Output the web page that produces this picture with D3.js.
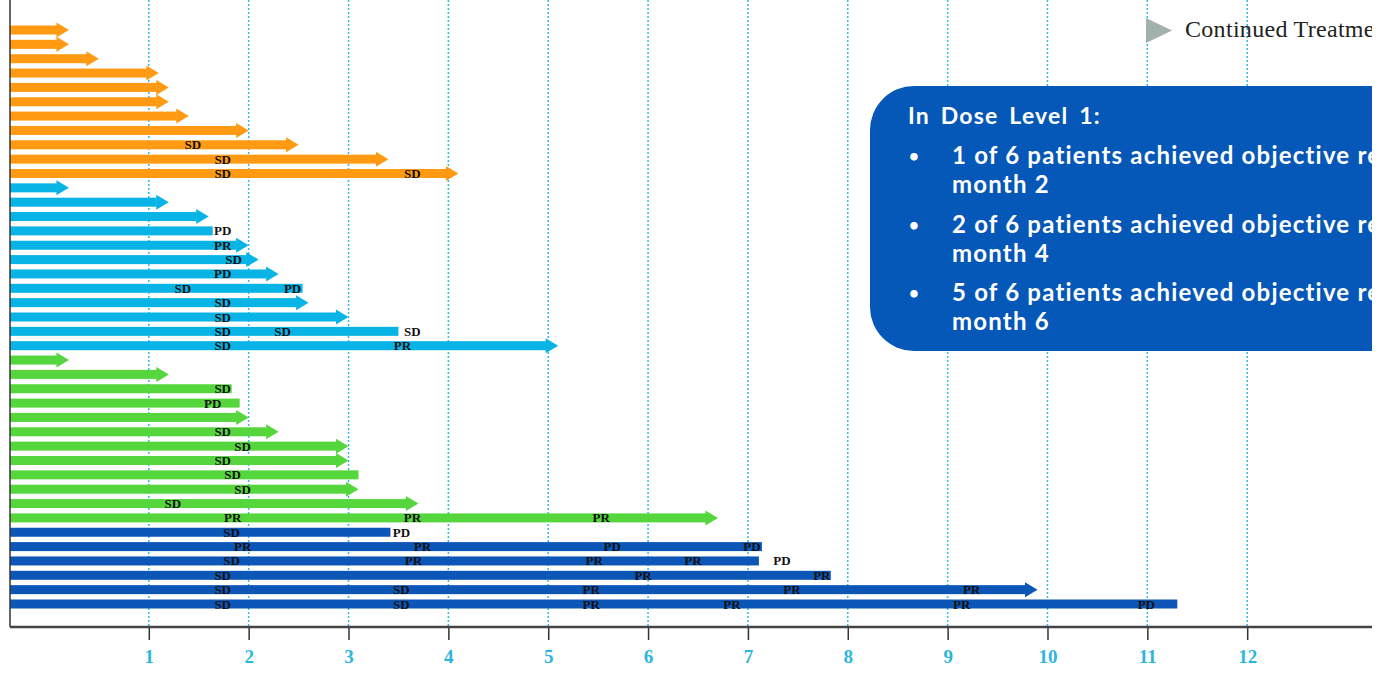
<!DOCTYPE html>
<html>
<head>
<meta charset="utf-8">
<script src="https://cdn.jsdelivr.net/npm/d3@7"></script>
<style>
  body { margin: 0; background: #fff; }
  svg { display: block; }
</style>
</head>
<body>
<svg width="1381" height="673"></svg>
<script>
var svg = d3.select('svg');
var width = +svg.attr('width');
var height = +svg.attr('height');

// months on treatment, one row per patient, grouped by cohort
// end = last month, cont = still on treatment (arrow), marks = [month, response]
var cohortOrange = [
  {end: 0.2, cont: true, marks: []},
  {end: 0.2, cont: true, marks: []},
  {end: 0.5, cont: true, marks: []},
  {end: 1.1, cont: true, marks: []},
  {end: 1.2, cont: true, marks: []},
  {end: 1.2, cont: true, marks: []},
  {end: 1.4, cont: true, marks: []},
  {end: 2.0, cont: true, marks: []},
  {end: 2.5, cont: true, marks: [[1.44, 'SD']]},
  {end: 3.4, cont: true, marks: [[1.74, 'SD']]},
  {end: 4.1, cont: true, marks: [[1.74, 'SD'], [3.64, 'SD']]}
];
var cohortCyan = [
  {end: 0.2, cont: true, marks: []},
  {end: 1.2, cont: true, marks: []},
  {end: 1.6, cont: true, marks: []},
  {end: 1.64, cont: false, marks: [[1.74, 'PD']]},
  {end: 2.0, cont: true, marks: [[1.74, 'PR']]},
  {end: 2.1, cont: true, marks: [[1.85, 'SD']]},
  {end: 2.3, cont: true, marks: [[1.74, 'PD']]},
  {end: 2.54, cont: false, marks: [[1.34, 'SD'], [2.44, 'PD']]},
  {end: 2.6, cont: true, marks: [[1.74, 'SD']]},
  {end: 3.0, cont: true, marks: [[1.74, 'SD']]},
  {end: 3.5, cont: false, marks: [[1.74, 'SD'], [2.34, 'SD'], [3.64, 'SD']]},
  {end: 5.1, cont: true, marks: [[1.74, 'SD'], [3.54, 'PR']]}
];
var cohortGreen = [
  {end: 0.2, cont: true, marks: []},
  {end: 1.2, cont: true, marks: []},
  {end: 1.83, cont: false, marks: [[1.74, 'SD']]},
  {end: 1.91, cont: false, marks: [[1.64, 'PD']]},
  {end: 2.0, cont: true, marks: []},
  {end: 2.3, cont: true, marks: [[1.74, 'SD']]},
  {end: 3.0, cont: true, marks: [[1.94, 'SD']]},
  {end: 3.0, cont: true, marks: [[1.74, 'SD']]},
  {end: 3.1, cont: false, marks: [[1.84, 'SD']]},
  {end: 3.1, cont: true, marks: [[1.94, 'SD']]},
  {end: 3.7, cont: true, marks: [[1.24, 'SD']]},
  {end: 6.7, cont: true, marks: [[1.84, 'PR'], [3.64, 'PR'], [5.53, 'PR']]}
];
var cohortBlue = [
  {end: 3.42, cont: false, marks: [[1.83, 'SD'], [3.53, 'PD']]},
  {end: 7.14, cont: false, marks: [[1.94, 'PR'], [3.74, 'PR'], [5.64, 'PD'], [7.04, 'PD']]},
  {end: 7.11, cont: false, marks: [[1.83, 'SD'], [3.65, 'PR'], [5.46, 'PR'], [6.45, 'PR'], [7.34, 'PD']]},
  {end: 7.83, cont: false, marks: [[1.74, 'SD'], [5.95, 'PR'], [7.74, 'PR']]},
  {end: 9.9, cont: true, marks: [[1.74, 'SD'], [3.53, 'SD'], [5.43, 'PR'], [7.44, 'PR'], [9.24, 'PR']]},
  {end: 11.3, cont: false, marks: [[1.74, 'SD'], [3.53, 'SD'], [5.43, 'PR'], [6.84, 'PR'], [9.14, 'PR'], [10.99, 'PD']]}
];
var cohorts = [cohortOrange, cohortCyan, cohortGreen, cohortBlue];
var cohortColors = ['#ff9a12', '#08b4e6', '#55d63c', '#0b56b6'];
var monthTicks = [1, 2, 3, 4, 5, 6, 7, 8, 9, 10, 11, 12];
var legendLabel = 'Continued Treatment';
var noteTitle = 'In Dose Level 1:';
var noteLines = [
  ['1 of 6 patients achieved objective response by', 'month 2'],
  ['2 of 6 patients achieved objective response by', 'month 4'],
  ['5 of 6 patients achieved objective response by', 'month 6']
];

// flatten rows, keep the cohort colour
var rows = [];
cohorts.forEach(function(c, ci) {
  c.forEach(function(r) {
    rows.push({end: r.end, cont: r.cont, marks: r.marks, color: cohortColors[ci]});
  });
});

var x = d3.scaleLinear().domain([-0.39, 13.34]).range([10, width]);
var y = d3.scalePoint().domain(d3.range(rows.length)).range([30, 604]);
var x0 = x(x.domain()[0]);
var axisY = 627;
var barH = 9, headH = 15, headL = 12;

// the picture is cut at the right edge
svg.append('defs').append('clipPath').attr('id', 'cut')
  .append('rect').attr('x', 0).attr('y', 0).attr('width', 1372).attr('height', height);
var g = svg.append('g').attr('clip-path', 'url(#cut)');

// dotted month gridlines
g.append('g').selectAll('line')
  .data(monthTicks)
  .enter()
  .append('line')
  .attr('x1', function(d) { return x(d); })
  .attr('x2', function(d) { return x(d); })
  .attr('y1', 0)
  .attr('y2', axisY)
  .attr('stroke', '#2cbce6')
  .attr('stroke-width', 1.5)
  .attr('stroke-dasharray', '2,2');

// bars, with an arrow head when treatment continues
var bar = g.append('g').selectAll('g')
  .data(rows)
  .enter()
  .append('g')
  .attr('transform', function(d, i) { return 'translate(0,' + y(i) + ')'; });

bar.append('rect')
  .attr('x', x0)
  .attr('y', -barH / 2)
  .attr('width', function(d) {
    return x(d.end) - (d.cont ? headL : 0) - x0;
  })
  .attr('height', barH)
  .attr('fill', function(d) { return d.color; });

bar.filter(function(d) { return d.cont; })
  .append('path')
  .attr('d', function(d) {
    var tip = x(d.end);
    return 'M' + (tip - headL - 0.5) + ',' + (-headH / 2) + 'L' + tip + ',0L' + (tip - headL - 0.5) + ',' + (headH / 2) + 'Z';
  })
  .attr('fill', function(d) { return d.color; });

// response assessment labels
bar.selectAll('text')
  .data(function(d) { return d.marks; })
  .enter()
  .append('text')
  .attr('x', function(d) { return x(d[0]); })
  .attr('y', 4.5)
  .attr('text-anchor', 'middle')
  .style('font-family', '"Liberation Serif", "DejaVu Serif", serif')
  .style('font-weight', 'bold')
  .style('font-size', '13px')
  .attr('fill', '#111')
  .text(function(d) { return d[1]; });

// axes
g.append('line')
  .attr('x1', 10).attr('x2', 10).attr('y1', 0).attr('y2', axisY)
  .attr('stroke', '#333').attr('stroke-width', 1.5);

var xAxis = d3.axisBottom(x).tickValues(monthTicks).tickSize(13).tickPadding(10);
var ax = g.append('g').attr('transform', 'translate(0,' + axisY + ')').call(xAxis);
ax.select('.domain').remove();
ax.selectAll('.tick line').attr('stroke', '#333').attr('stroke-width', 1.5);
ax.selectAll('.tick text')
  .attr('fill', '#2bb6e0')
  .style('font-family', '"Liberation Serif", serif')
  .style('font-weight', 'bold')
  .style('font-size', '19px');
g.append('line')
  .attr('x1', 10).attr('x2', width).attr('y1', axisY).attr('y2', axisY)
  .attr('stroke', '#444').attr('stroke-width', 2.5);

// legend
g.append('path')
  .attr('d', 'M1146,18L1172,30.5L1146,43Z')
  .attr('fill', '#a3b1ac');
g.append('text')
  .attr('x', 1185).attr('y', 37)
  .style('font-family', '"Liberation Serif", serif')
  .style('font-size', '24px')
  .style('letter-spacing', '0.3px')
  .attr('fill', '#222')
  .text(legendLabel);

// note box
var note = g.append('g');
note.append('rect')
  .attr('x', 870).attr('y', 86).attr('width', 560).attr('height', 265)
  .attr('rx', 44).attr('ry', 44)
  .attr('fill', '#0557b8');
var font = 'Lato, "Open Sans", sans-serif';
function noteText(sel, size) {
  return sel
    .style('font-family', font)
    .style('font-weight', 'bold')
    .style('font-size', size)
    .style('letter-spacing', '1.2px')
    .attr('fill', '#fff');
}
noteText(note.append('text').attr('x', 908).attr('y', 124), '23px')
  .style('word-spacing', '4px')
  .text(noteTitle);
noteLines.forEach(function(l, i) {
  var by = 164 + i * 68.5;
  noteText(note.append('text').attr('x', 909).attr('y', by - 2), '17px')
    .text('\u2022');
  l.forEach(function(s, j) {
    noteText(note.append('text').attr('x', 952).attr('y', by + j * 29), '24px')
      .text(s);
  });
});
</script>
</body>
</html>
